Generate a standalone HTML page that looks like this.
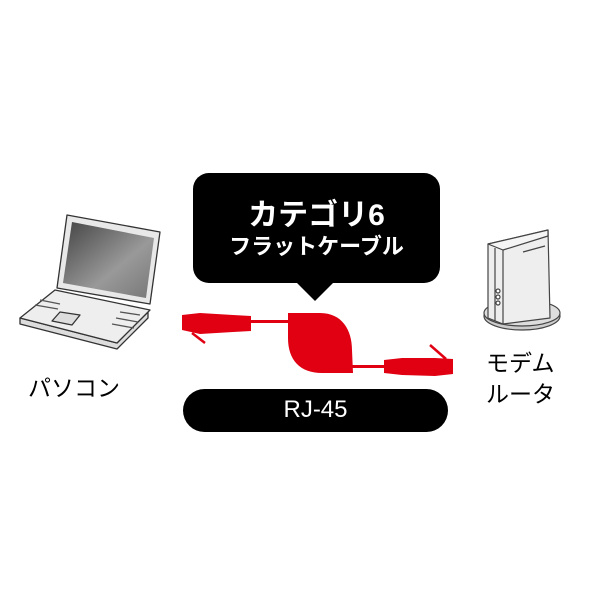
<!DOCTYPE html>
<html><head><meta charset="utf-8"><style>
body{margin:0;width:600px;height:600px;background:#fff;position:relative;overflow:hidden;font-family:"Liberation Sans","Noto Sans CJK JP",sans-serif}
.t{position:absolute;white-space:nowrap;font-weight:bold}
</style></head><body>
<svg width="600" height="600" style="position:absolute;left:0;top:0">
<rect x="193" y="173" width="247" height="110" rx="16" fill="#000"/>
<polygon points="296,282 334,282 315,301" fill="#000"/>
<rect x="183" y="389" width="265" height="43" rx="21.5" fill="#000"/>
<g stroke="#333" stroke-width="1.3" stroke-linejoin="round">
<polygon points="20,318 20,324 117,349 148,318 148,312 117,343" fill="#ddd"/>
<polygon points="20,318 55,290 150,310 117,343" fill="#eee"/>
<polygon points="67,215 160,232 150,304 57,288" fill="#e8e8e8"/>
<defs><linearGradient id="g" x1="0" y1="0" x2="1" y2="1"><stop offset="0" stop-color="#444"/><stop offset="0.6" stop-color="#999"/><stop offset="1" stop-color="#777"/></linearGradient></defs>
<polygon points="72,222 154,238 146,298 63,283" fill="url(#g)" stroke="none"/>
<polygon points="52,321 72,325 80,315 60,312" fill="#ddd"/>
<path d="M40,300 L60,304 M35,305 L58,309 M120,312 L140,315 M116,318 L138,322 M112,324 L134,328" stroke="#555"/>
</g>
<g stroke="#444" stroke-width="1.2" stroke-linejoin="round">
<ellipse cx="522" cy="316" rx="38" ry="14" fill="#ccc"/>
<ellipse cx="522" cy="313" rx="38" ry="13" fill="#ddd"/>
<polygon points="488,244 548,230 550,318 503,324 488,318" fill="#eee"/>
<polygon points="488,244 548,230 548,236 503,250" fill="#f5f5f5"/>
<line x1="503" y1="250" x2="503" y2="324"/>
<line x1="495" y1="248" x2="495" y2="321"/>
<line x1="523" y1="252" x2="545" y2="246"/>
<circle cx="498" cy="291" r="2" fill="#fff"/><circle cx="498" cy="297" r="2" fill="#fff"/><circle cx="498" cy="303" r="2" fill="#fff"/>
</g>
<g fill="#e00012">
<path d="M182,315 L200,313 L233,315 L251,316 L251,331 L233,332 L200,334 L182,330 Z"/>
<line x1="192" y1="333" x2="205" y2="343" stroke="#e00012" stroke-width="2.5"/>
<rect x="250" y="320" width="40" height="3"/>
<path d="M288,313 L320,313 C342,313 352,330 352,350 L353,373 L322,373 C300,373 288,360 288,338 Z"/>
<rect x="352" y="365" width="35" height="3"/>
<path d="M384,360 L402,358 L435,358 L453,359 L453,374 L435,376 L402,375 L384,373 Z"/>
<line x1="430" y1="345" x2="446" y2="359" stroke="#e00012" stroke-width="2.5"/>
</g>
</svg>
<div class="t" style="left:193px;width:247px;top:190px;text-align:center;color:#fff;font-size:30px">カテゴリ6</div>
<div class="t" style="left:193px;width:247px;top:229px;text-align:center;color:#fff;font-size:22px">フラットケーブル</div>
<div class="t" style="left:183px;width:265px;top:396px;text-align:center;color:#fff;font-size:24px;font-weight:normal">RJ-45</div>
<div class="t" style="left:28px;top:369px;font-size:23px;font-weight:normal">パソコン</div>
<div class="t" style="left:486px;top:344px;font-size:23px;font-weight:normal">モデム</div>
<div class="t" style="left:486px;top:375px;font-size:23px;font-weight:normal">ルータ</div>
</body></html>
